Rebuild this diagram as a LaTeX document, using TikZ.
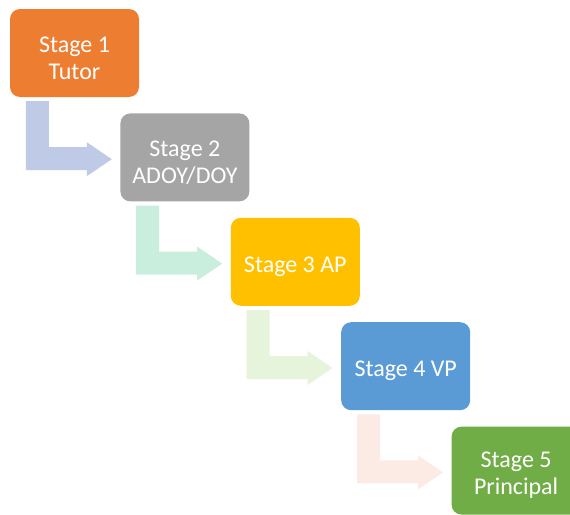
\documentclass[tikz,border=0pt]{standalone}
\usepackage{fontspec}
\setmainfont{Carlito}
\usetikzlibrary{positioning}

\definecolor{stageOrange}{HTML}{ED7D31}
\definecolor{stageGray}{HTML}{A5A5A5}
\definecolor{stageYellow}{HTML}{FFC000}
\definecolor{stageBlue}{HTML}{5B9BD5}
\definecolor{stageGreen}{HTML}{70AD47}
\definecolor{arrowBlue}{HTML}{BFCAE6}
\definecolor{arrowMint}{HTML}{C9EEDD}
\definecolor{arrowLime}{HTML}{E6F4DB}
\definecolor{arrowPink}{HTML}{FCEAE5}

\begin{document}
\begin{tikzpicture}[
  x=1pt, y=-1pt,
  stage/.style={rectangle, rounded corners=10pt, draw=none,
                minimum width=129pt, minimum height=88pt, inner sep=0pt},
  every label/.style={text=white, align=center, inner sep=0pt,
                      yshift=-5pt, font=\fontsize{24}{27}\selectfont},
  bent/.style={draw=none}
]
\useasboundingbox (0,0) rectangle (570,514);
\clip (0,0) rectangle (570,514);

% ==========================================================
% Stages
% ==========================================================
\node[stage, fill=stageOrange, label=center:{Stage 1\\Tutor}] (s1) at (74.5,53) {};
\node[stage, fill=stageGray, label=center:{Stage 2\\ADOY/DOY},
      below right=16pt and -19pt of s1] (s2) {};
\node[stage, fill=stageYellow, label=center:{Stage 3 AP},
      below right=16pt and -19pt of s2] (s3) {};
\node[stage, fill=stageBlue, label=center:{Stage 4 VP},
      below right=16pt and -19pt of s3] (s4) {};
\node[stage, fill=stageGreen, label=center:{Stage 5\\Principal},
      below right=16pt and -19pt of s4] (s5) {};

% ==========================================================
% Bent arrows
% ==========================================================
\foreach \from/\col in {s1/arrowBlue, s2/arrowMint, s3/arrowLime, s4/arrowPink}
  \fill[bent, fill=\col, shift={(\from.south west)}]
    (16,4) -- (39,4) -- (39,50) -- (77,50) -- (77,45) -- (102,62)
    -- (77,79) -- (77,73) -- (16,73) -- cycle;

\end{tikzpicture}
\end{document}
